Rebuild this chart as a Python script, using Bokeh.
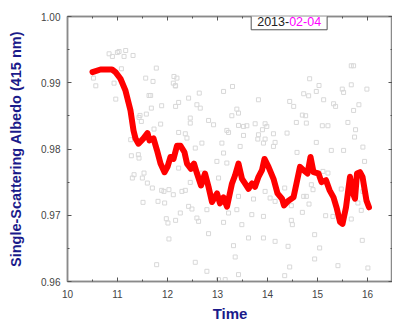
from bokeh.plotting import figure
from bokeh.models import LinearAxis, FixedTicker, PrintfTickFormatter, Label, CustomLabelingPolicy
from bokeh.embed import file_html
from bokeh.resources import INLINE

# ---- data ----
line_t = [10.50, 10.66, 10.89, 10.96, 11.06, 11.16, 11.26, 11.32, 11.36, 11.42,
          11.52, 11.60, 11.64, 11.72, 11.79, 11.86, 11.94, 12.00, 12.06, 12.12,
          12.19, 12.26, 12.34, 12.39, 12.47, 12.53, 12.59, 12.67, 12.75, 12.82,
          12.89, 12.99, 13.05, 13.12, 13.19, 13.29, 13.35, 13.42, 13.49, 13.55,
          13.62, 13.69, 13.75, 13.82, 13.89, 13.94, 14.02, 14.12, 14.20, 14.29,
          14.33, 14.42, 14.52, 14.58, 14.65, 14.72, 14.80, 14.86, 14.92, 15.02,
          15.08, 15.17, 15.24, 15.32, 15.38, 15.45, 15.50, 15.57, 15.65, 15.71,
          15.75, 15.79, 15.85, 15.90, 15.98, 16.03]
line_a = [0.9916, 0.9920, 0.9920, 0.9916, 0.9906, 0.9888, 0.9858, 0.9828, 0.9816, 0.9808,
          0.9816, 0.9824, 0.9813, 0.9816, 0.9798, 0.9778, 0.9765, 0.9773, 0.9788, 0.9785,
          0.9805, 0.9805, 0.9795, 0.9778, 0.9770, 0.9778, 0.9763, 0.9745, 0.9763, 0.9743,
          0.9720, 0.9733, 0.9718, 0.9727, 0.9713, 0.9748, 0.9760, 0.9778, 0.9755, 0.9748,
          0.9740, 0.9748, 0.9743, 0.9758, 0.9768, 0.9785, 0.9773, 0.9755, 0.9733, 0.9725,
          0.9715, 0.9722, 0.9727, 0.9748, 0.9773, 0.9768, 0.9763, 0.9788, 0.9765, 0.9763,
          0.9750, 0.9753, 0.9738, 0.9727, 0.9712, 0.9690, 0.9687, 0.9712, 0.9758, 0.9733,
          0.9725, 0.9763, 0.9765, 0.9758, 0.9722, 0.9712]

scatter_t = [10.832, 10.898, 10.998, 11.031, 11.164, 11.131, 11.311, 11.078, 11.776, 11.564,
             11.710, 12.129, 12.162, 12.116, 10.519, 10.566, 10.931, 10.965, 11.630, 11.663,
             11.677, 11.883, 11.450, 11.430, 11.577, 11.477, 11.863, 11.730, 12.162, 11.264,
             11.277, 11.417, 11.430, 11.331, 11.297, 11.530, 11.497, 11.597, 11.697, 11.883,
             11.929, 12.029, 12.116, 11.810, 11.943, 11.510, 11.976, 12.009, 12.162, 12.029,
             11.783,
             12.189, 12.156, 12.422, 12.223, 12.588, 12.655, 12.635, 13.121, 13.300, 13.819,
             13.387, 13.287, 13.420, 12.455, 12.455, 12.821, 12.921, 13.420, 13.520, 13.587,
             13.753, 13.952, 13.986, 13.899, 13.187, 13.221, 12.223, 12.356, 12.389, 13.520,
             13.819, 13.806, 13.952, 13.919, 14.119, 14.152, 12.688, 13.088, 12.555, 14.119,
             12.988, 13.121, 13.453, 13.187, 12.223, 12.455, 12.688, 13.021, 13.420, 13.952,
             14.052, 13.720, 14.152, 12.289, 12.356, 12.422, 12.489, 12.256, 12.588, 12.622,
             12.788, 13.221, 13.387, 13.686, 13.919, 13.121, 13.487, 12.821, 13.320, 13.620,
             13.919, 14.152, 13.354, 12.555, 12.788, 13.021, 13.154, 13.420,
             15.675, 15.722, 14.843, 15.030, 14.976, 14.724, 14.823, 15.495, 15.522, 15.988,
             15.675, 14.444, 14.524, 15.123, 15.322, 15.362, 15.828, 15.722, 14.697, 14.763,
             14.577, 14.777, 15.096, 15.209, 15.608, 14.391, 15.761, 15.741, 14.976, 15.276,
             15.522, 15.908, 14.590, 15.941, 15.109, 15.209, 14.344, 14.877, 14.910, 15.475,
             15.908, 14.724, 14.777, 14.477, 14.830, 15.808, 14.697, 15.163, 15.309, 15.675,
             15.875, 14.477, 14.497, 14.943, 15.895, 14.411, 15.043, 14.444, 15.409, 14.943,
             16.008, 14.344]
scatter_a = [0.99437, 0.99397, 0.99457, 0.99472, 0.99487, 0.99397, 0.99412, 0.99211, 0.99221, 0.99070,
             0.99020, 0.99095, 0.98954, 0.98994, 0.99070, 0.98954, 0.98994, 0.98753, 0.98808, 0.98808,
             0.98617, 0.98653, 0.98507, 0.98477, 0.98527, 0.98416, 0.98376, 0.98301, 0.98643, 0.98140,
             0.97898, 0.97914, 0.97863, 0.97612, 0.97562, 0.97637, 0.97562, 0.97486, 0.97411, 0.97376,
             0.97360, 0.97386, 0.97310, 0.97210, 0.97185, 0.97195, 0.96948, 0.96883, 0.96923, 0.96642,
             0.96254,
             0.99070, 0.98954, 0.98768, 0.98703, 0.98668, 0.98617, 0.98844, 0.98869, 0.98944, 0.98743,
             0.98602, 0.98502, 0.98542, 0.98467, 0.98391, 0.98431, 0.98366, 0.98356, 0.98341, 0.98351,
             0.98381, 0.98381, 0.98341, 0.98291, 0.98281, 0.98250, 0.98250, 0.98230, 0.98165, 0.98205,
             0.98215, 0.98150, 0.98150, 0.98089, 0.98230, 0.98100, 0.98089, 0.98089, 0.98014, 0.98039,
             0.97813, 0.97939, 0.98039, 0.97788, 0.97712, 0.97496, 0.97637, 0.97562, 0.97285, 0.97360,
             0.97260, 0.97245, 0.97210, 0.97360, 0.97376, 0.97134, 0.97094, 0.97034, 0.96958, 0.96908,
             0.97084, 0.97034, 0.97084, 0.97009, 0.96983, 0.96893, 0.96858, 0.96722, 0.96541, 0.96657,
             0.96657, 0.96606, 0.96370, 0.96290, 0.96154, 0.96028, 0.96028, 0.96104,
             0.99256, 0.99256, 0.99060, 0.98959, 0.98869, 0.98834, 0.98803, 0.98904, 0.98854, 0.98904,
             0.98969, 0.98718, 0.98643, 0.98743, 0.98683, 0.98643, 0.98668, 0.98582, 0.98512, 0.98502,
             0.98401, 0.98391, 0.98351, 0.98351, 0.98401, 0.98240, 0.98291, 0.98180, 0.98100, 0.97979,
             0.97979, 0.98029, 0.97949, 0.97813, 0.97662, 0.97637, 0.97411, 0.97461, 0.97386, 0.97396,
             0.97360, 0.97285, 0.97285, 0.97144, 0.97169, 0.97185, 0.97044, 0.96993, 0.96983, 0.96943,
             0.97074, 0.96923, 0.96858, 0.96707, 0.96621, 0.96531, 0.96506, 0.96219, 0.96239, 0.96340,
             0.96204, 0.96088]

x_ticks = [10, 11, 12, 13, 14, 15, 16]
x_minor = [10.5, 11.5, 12.5, 13.5, 14.5, 15.5, 16.5]
y_ticks = [0.96, 0.97, 0.98, 0.99, 1.00]
y_minor = [0.965, 0.975, 0.985, 0.995]

x_title = "Time"
y_title = "Single-Scattering Albedo (415 nm)"
date_year = "2013-"
date_md = "02-04"

FONT = "Liberation Sans"
NAVY = "#1a1a8a"
FRAME = "#8a8a8a"
PX_PER_X = 325.0 / 6.5  # pixel per hour in the frame

p = figure(frame_width=325, frame_height=265, x_range=(10, 16.5), y_range=(0.96, 1.0),
           output_backend="svg", toolbar_location=None,
           min_border_left=67, min_border_right=0, min_border_top=16, min_border_bottom=40,
           x_axis_label=x_title, y_axis_label=y_title)
p.grid.visible = False
p.outline_line_color = FRAME
p.outline_line_width = 1.5
p.background_fill_color = "white"
p.border_fill_color = "white"

p.scatter(scatter_t, scatter_a, marker="square", size=4, fill_color=None,
          line_color="#d8d8d8", line_width=1)
p.line(line_t, line_a, line_color="#ff0000", line_width=6, line_join="round", line_cap="round")

def style(ax, labels=True):
    ax.axis_line_color = FRAME
    ax.axis_line_width = 1.5
    ax.major_tick_line_color = "#555555"
    ax.minor_tick_line_color = "#555555"
    ax.major_tick_in = 4
    ax.major_tick_out = 0
    ax.minor_tick_in = 2
    ax.minor_tick_out = 0
    if labels:
        ax.major_label_text_font = FONT
        ax.major_label_text_font_size = "10px"
        ax.major_label_text_color = "#444444"
        ax.axis_label_text_font = FONT
        ax.axis_label_text_font_size = "15px"
        ax.axis_label_text_font_style = "bold"
        ax.axis_label_text_color = NAVY
    else:
        # mirrored frame axis: ticks only, no labels and no reserved space
        ax.major_label_standoff = 0
        ax.major_label_text_font_size = "0px"
        ax.major_label_policy = CustomLabelingPolicy(
            code="for (const i of indices) { indices.unset(i) } return indices")

xa = p.xaxis[0]
xa.ticker = FixedTicker(ticks=x_ticks, minor_ticks=x_minor)
style(xa)
xa.major_label_standoff = 8
xa.axis_label_standoff = 4

ya = p.yaxis[0]
ya.ticker = FixedTicker(ticks=y_ticks, minor_ticks=y_minor)
ya.formatter = PrintfTickFormatter(format="%.2f")
style(ya)
ya.major_label_standoff = 7
ya.axis_label_standoff = 14
ya.axis_label_text_font_size = "14.5px"

top = LinearAxis(ticker=FixedTicker(ticks=x_ticks, minor_ticks=x_minor))
style(top, labels=False)
p.add_layout(top, "above")
right = LinearAxis(ticker=FixedTicker(ticks=y_ticks, minor_ticks=y_minor))
style(right, labels=False)
p.add_layout(right, "right")

# date box straddling the top frame line
box_x = 10 + 183.7 / PX_PER_X
pad = 6
box = Label(x=box_x, y=0.99928, text=date_year + date_md, text_font=FONT,
            text_font_size="12.5px", text_color="#ff00ff", text_baseline="middle",
            text_align="left", background_fill_color="white", border_line_color="#555555",
            border_line_width=1, padding=dict(left=pad, right=pad, top=4, bottom=4))
p.add_layout(box)
yr = Label(x=box_x + pad / PX_PER_X, y=0.99928, text=date_year, text_font=FONT,
           text_font_size="12.5px", text_color="#222222", text_baseline="middle",
           text_align="left", background_fill_color="white", padding=0)
p.add_layout(yr)

open("out.html", "w").write(file_html(p, INLINE))
